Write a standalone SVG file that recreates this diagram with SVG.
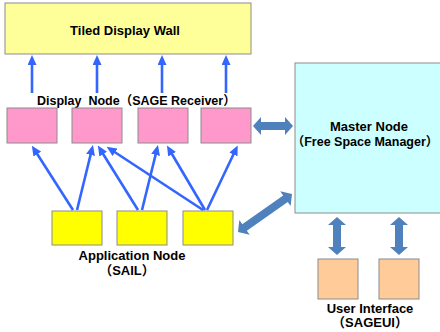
<svg xmlns="http://www.w3.org/2000/svg" width="440" height="332" viewBox="0 0 440 332">
<style>
text{font-family:"Liberation Sans","Noto Sans CJK JP",Arial,sans-serif;font-weight:bold;fill:#000}
.box{stroke:#8c8c8c;stroke-width:1}
.thin{stroke:#3366ff;stroke-width:2.6;fill:none;marker-end:url(#ah)}
.dbl{fill:#4f81bd}
</style>
<defs>
<marker id="ah" markerUnits="userSpaceOnUse" markerWidth="10" markerHeight="9" refX="6" refY="4.5" orient="auto">
<path d="M0,0 L10,4.5 L0,9 z" fill="#3366ff"/>
</marker>
</defs>
<rect width="440" height="332" fill="#fff"/>

<g id="wall">
<rect class="box" x="5" y="3" width="246" height="51" fill="#ffff99"/>
<text x="125" y="35" font-size="13" text-anchor="middle">Tiled Display Wall</text>
</g>

<text x="37" y="105" font-size="12.5" xml:space="preserve" style="white-space:pre">Display  Node（SAGE Receiver）</text>

<g id="display1"><rect class="box" x="7" y="108" width="50" height="35" fill="#ff99cc"/></g>
<g id="display2"><rect class="box" x="72" y="108" width="50" height="35" fill="#ff99cc"/></g>
<g id="display3"><rect class="box" x="138" y="108" width="50" height="35" fill="#ff99cc"/></g>
<g id="display4"><rect class="box" x="201" y="108" width="50" height="35" fill="#ff99cc"/></g>

<g id="master">
<rect class="box" x="295" y="63" width="150" height="150" fill="#ccffff"/>
<text x="369" y="130.5" font-size="13" text-anchor="middle">Master Node</text>
<text x="365" y="146" font-size="12.5" text-anchor="middle">（Free Space Manager）</text>
</g>

<g id="app1"><rect class="box" x="52" y="211" width="50" height="34" fill="#ffff00"/></g>
<g id="app2"><rect class="box" x="117" y="211" width="50" height="34" fill="#ffff00"/></g>
<g id="app3"><rect class="box" x="183" y="211" width="50" height="34" fill="#ffff00"/></g>
<text x="132" y="260" font-size="13" text-anchor="middle">Application Node</text>
<text x="127" y="275" font-size="13" text-anchor="middle">（SAIL）</text>

<g id="ui1"><rect class="box" x="318" y="259" width="40" height="40" fill="#ffcc99"/></g>
<g id="ui2"><rect class="box" x="379" y="259" width="40" height="40" fill="#ffcc99"/></g>
<text x="370" y="313" font-size="13" text-anchor="middle">User Interface</text>
<text x="370" y="327" font-size="13" text-anchor="middle">（SAGEUI）</text>

<g id="connectors">
<line class="thin" x1="32" y1="93" x2="32" y2="59"/>
<line class="thin" x1="97" y1="93" x2="97" y2="59"/>
<line class="thin" x1="162" y1="93" x2="162" y2="59"/>
<line class="thin" x1="226" y1="93" x2="226" y2="59"/>

<line class="thin" x1="73" y1="210" x2="34" y2="149"/>
<line class="thin" x1="77" y1="210" x2="92" y2="149"/>
<line class="thin" x1="138" y1="210" x2="100" y2="149"/>
<line class="thin" x1="142" y1="210" x2="157" y2="149"/>
<line class="thin" x1="203" y1="210" x2="110" y2="149"/>
<line class="thin" x1="205" y1="210" x2="169" y2="149"/>
<line class="thin" x1="207" y1="210" x2="236" y2="149"/>

<polygon class="dbl" points="253,126 261,117 261,122 285,122 285,117 293,126 285,135 285,130 261,130 261,135"/>
<polygon class="dbl" points="337,217 346,225 341,225 341,247 346,247 337,255 328,247 333,247 333,225 328,225"/>
<polygon class="dbl" points="399,217 408,225 403,225 403,247 408,247 399,255 390,247 395,247 395,225 390,225"/>
<polygon class="dbl" transform="translate(238,232) rotate(-35.1)" points="0,0 8,-9 8,-4 58,-4 58,-9 66,0 58,9 58,4 8,4 8,9"/>
</g>
</svg>
